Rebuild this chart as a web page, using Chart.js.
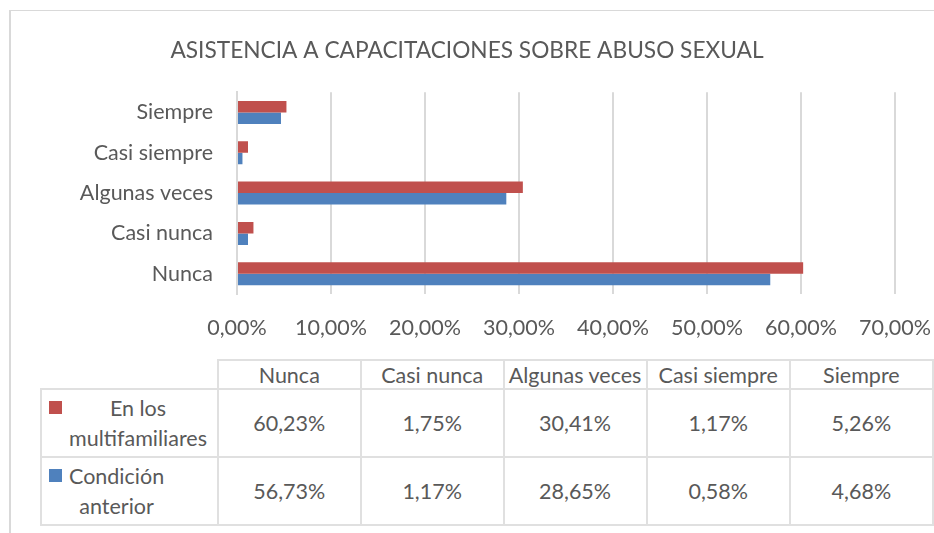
<!DOCTYPE html>
<html>
<head>
<meta charset="utf-8">
<script src="https://cdn.jsdelivr.net/npm/chart.js@4"></script>
<style>
  body { margin: 0; background: #fff; font-family: Lato, sans-serif; color: #595959; overflow: hidden; }
  #frame { position: absolute; left: 9px; top: 10px; width: 1000px; height: 600px;
           border-left: 2px solid #d9d9d9; border-top: 1px solid #d9d9d9; }
  #wrap { position: absolute; left: 0; top: 0; width: 934px; height: 350px; }
  #tbl { position: absolute; left: 40px; top: 359px; border-collapse: collapse; font-size: 21.5px; color: #595959; }
  #tbl td { border: 2px solid #e0e0e0; text-align: center; padding: 0; }
  #tbl tr.head td { height: 27px; }
  #tbl tr.row td { height: 66px; }
  #tbl td.blank { border-top: none; border-left: none; }
  #tbl td.key { position: relative; text-align: left; }
  .sw { position: absolute; left: 7px; top: 11px; width: 13px; height: 13px; }
  .nm { display: inline-block; margin-left: 27px; text-align: center; line-height: 30px; }
</style>
</head>
<body>
<div id="frame"></div>
<div id="wrap"><canvas id="chart"></canvas></div>
<table id="tbl"></table>
<script>
const categories = ['Nunca', 'Casi nunca', 'Algunas veces', 'Casi siempre', 'Siempre'];
const multifamiliares = [60.23, 1.75, 30.41, 1.17, 5.26];
const anterior = [56.73, 1.17, 28.65, 0.58, 4.68];
const seriesNames = [['En los', 'multifamiliares'], ['Condición', 'anterior']];
const seriesColors = ['#c0504d', '#4f81bd'];
const xMax = 70;
const xStep = 10;

const pct = v => v.toFixed(2).replace('.', ',') + '%';
const allSeries = [multifamiliares, anterior];

new Chart(document.getElementById('chart'), {
    type: 'bar',
    data: {
        labels: categories,
        datasets: allSeries.map((vals, i) => ({
            label: seriesNames[i].join(' '),
            data: vals,
            backgroundColor: seriesColors[i],
            borderWidth: 0,
            categoryPercentage: 0.57,
            barPercentage: 1
        }))
    },
    options: {
        indexAxis: 'y',
        responsive: true,
        maintainAspectRatio: false,
        animation: false,
        layout: { padding: { left: 0, right: 0, top: 0, bottom: 11 } },
        plugins: {
            legend: { display: false },
            tooltip: { enabled: false },
            title: {
                display: true,
                text: 'ASISTENCIA A CAPACITACIONES SOBRE ABUSO SEXUAL',
                color: '#595959',
                font: { family: 'Lato', size: 22.7, weight: 'normal' },
                padding: { top: 37, bottom: 28 }
            }
        },
        scales: {
            x: {
                min: 0,
                max: xMax,
                ticks: {
                    stepSize: xStep,
                    color: '#595959',
                    font: { family: 'Lato', size: 21.5 },
                    padding: 21,
                    maxRotation: 0,
                    callback: v => pct(v)
                },
                grid: { color: '#d9d9d9', lineWidth: 2, drawTicks: false },
                border: { display: false },
                afterFit: scale => {
                    scale.height = 45;
                    scale.paddingLeft = 0;
                    scale.paddingRight = 39;
                }
            },
            y: {
                reverse: true,
                ticks: {
                    color: '#595959',
                    font: { family: 'Lato', size: 21.5 },
                    padding: 24
                },
                grid: { display: false, drawTicks: false },
                border: { display: true, color: '#d9d9d9', width: 2 },
                afterFit: scale => { scale.width = 237; }
            }
        }
    }
});

// data table with legend keys
const tbl = document.getElementById('tbl');
let html = '<tr class="head"><td class="blank" style="width:176px"></td>';
categories.forEach(c => { html += '<td style="width:143px">' + c + '</td>'; });
html += '</tr>';
allSeries.forEach((vals, i) => {
    html += '<tr class="row"><td class="key"><span class="sw" style="background:' + seriesColors[i] + '"></span>'
        + '<span class="nm">' + seriesNames[i].join('<br>') + '</span></td>';
    vals.forEach(v => { html += '<td>' + pct(v) + '</td>'; });
    html += '</tr>';
});
tbl.innerHTML = html;
</script>
</body>
</html>
